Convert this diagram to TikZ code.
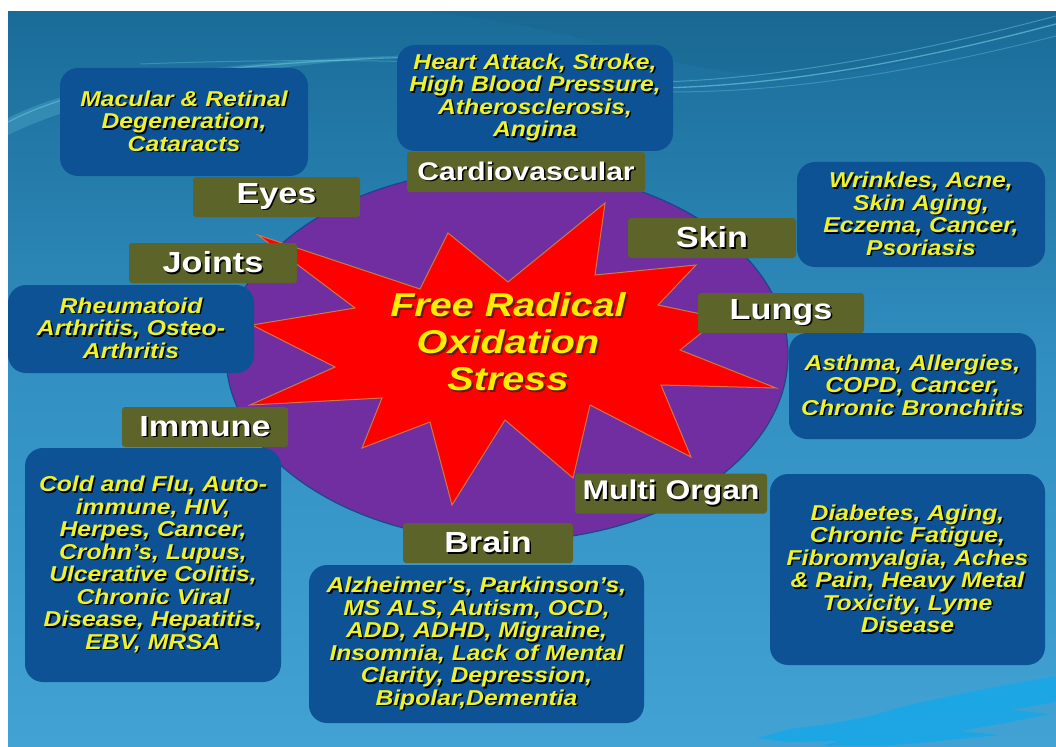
\documentclass[tikz,border=0pt]{standalone}
\usepackage{fontspec}
\setmainfont{Liberation Sans}
\newfontfamily\dfont[FakeStretch=1.15]{Liberation Sans}
\newfontfamily\lfont[FakeStretch=1.18]{Liberation Sans}
\newfontfamily\tfont[FakeStretch=1.2]{Liberation Sans}
\definecolor{olivebox}{RGB}{92,100,42}
\definecolor{disblue}{RGB}{14,82,150}
\definecolor{purp}{RGB}{112,46,160}
\definecolor{ellb}{RGB}{30,70,140}
\definecolor{starb}{RGB}{205,120,70}
\definecolor{starred}{RGB}{255,0,0}
\definecolor{dyellow}{RGB}{238,242,45}
\definecolor{tyellow}{RGB}{255,236,0}
\definecolor{tshadow}{RGB}{110,20,20}
\definecolor{bgtop}{RGB}{26,108,152}
\definecolor{bgmid}{RGB}{50,144,194}
\definecolor{bgbot}{RGB}{66,162,212}
\definecolor{brushc}{RGB}{20,168,232}
\definecolor{wavec}{RGB}{120,215,235}
\newcommand\sh[1]{\leavevmode\rlap{\kern1.6pt\raisebox{-1.6pt}{\textcolor{black}{#1}}}#1}
\newcommand\tsh[1]{\leavevmode\rlap{\kern2pt\raisebox{-2pt}{\textcolor{tshadow}{#1}}}#1}
\tikzset{
  lab/.style={fill=olivebox, rounded corners=3pt, inner sep=0pt, minimum height=40pt,
    text=white, font=\lfont\bfseries\fontsize{29}{30}\selectfont},
  dis/.style={fill=disblue, rounded corners=18pt, inner sep=0pt, align=center,
    text=dyellow, font=\dfont\bfseries\itshape\fontsize{21.5}{22.5}\selectfont},
  ttl/.style={align=center, text=tyellow, inner sep=0pt,
    font=\tfont\bfseries\itshape\fontsize{33}{37}\selectfont},
}
\begin{document}
\begin{tikzpicture}[x=1pt,y=-1pt]
\useasboundingbox (0,0) rectangle (1056,746);
% background
\fill[white] (0,0) rectangle (1056,746);
\shade[top color=bgtop, bottom color=bgbot, middle color=bgmid] (8,12) rectangle (1056,746);
% waves at top
\fill[wavec, opacity=0.22] (8,118) .. controls (60,92) and (160,62) .. (420,55)
   .. controls (200,70) and (80,100) .. (8,135) -- cycle;
\draw[wavec, opacity=0.45, line width=1.2pt] (8,122) .. controls (60,95) and (160,64) .. (420,57);
\draw[wavec, opacity=0.3, line width=1pt] (140,64) .. controls (300,58) and (520,58) .. (640,80);
\fill[bgtop!85!black, opacity=0.2] (420,12) .. controls (560,20) and (660,70) .. (770,76)
   .. controls (880,80) and (980,40) .. (1056,22) -- (1056,12) -- cycle;
\draw[wavec, opacity=0.55, line width=1.3pt] (655,88) .. controls (800,86) and (950,52) .. (1056,24);
\draw[wavec, opacity=0.4, line width=1pt] (660,82) .. controls (800,78) and (950,44) .. (1056,16);
\draw[wavec, opacity=0.3, line width=1pt] (670,92) .. controls (820,92) and (960,60) .. (1056,36);
% brush stroke bottom right
\fill[brushc, opacity=0.8] (757,738) -- (790,729) -- (830,724) -- (870,716) -- (905,706)
  -- (950,696) -- (1000,686) -- (1056,676) -- (1056,702) -- (1010,710) -- (1050,714)
  -- (1000,724) -- (960,731) -- (1000,735) -- (930,742) -- (880,746) -- (820,746) -- (840,741)
  -- (790,742) -- cycle;
% ellipse
\draw[fill=purp, draw=ellb, line width=1.2pt] (507,355) ellipse [x radius=281pt, y radius=186pt];
% starburst
\draw[fill=starred, draw=starb, line width=1pt, line join=miter]
  (258,235) -- (420,289) -- (448,233) -- (508,282) -- (605,203) -- (595,275)
  -- (696,265) -- (658,305) -- (720,318) -- (680,350) -- (776,388) -- (661,385)
  -- (691,457) -- (590,405) -- (573,478) -- (505,420) -- (452,505) -- (430,422)
  -- (362,448) -- (382,398) -- (250,405) -- (335,367) -- (252,325) -- (355,308) -- cycle;
% title
\node[ttl] (title) at (508,343) {\tsh{Free Radical}\\\tsh{Oxidation}\\\tsh{Stress}};
% labels
\node[lab, minimum width=167pt] (eyesL) at (276.5,197) {\sh{Eyes}};
\node[lab, minimum width=238pt, font=\lfont\bfseries\fontsize{25.5}{27}\selectfont] (cardioL) at (526,172) {\sh{Cardiovascular}};
\node[lab, minimum width=168pt] (skinL) at (712,238) {\sh{Skin}};
\node[lab, minimum width=168pt] (jointsL) at (213,263) {\sh{Joints}};
\node[lab, minimum width=166pt] (lungsL) at (781,313) {\sh{Lungs}};
\node[lab, minimum width=166pt] (immuneL) at (205,427) {\sh{Immune}};
\node[lab, minimum width=192pt, font=\lfont\bfseries\fontsize{27}{28}\selectfont] (multiL) at (671,493.5) {\sh{Multi Organ}};
\node[lab, minimum width=170pt] (brainL) at (488,543) {\sh{Brain}};
% disease boxes
\node[dis, minimum width=248pt, minimum height=108pt] (eyesD) at (184,122)
  {\sh{Macular \& Retinal}\\\sh{Degeneration,}\\\sh{Cataracts}};
\node[dis, minimum width=276pt, minimum height=106pt] (cardioD) at (535,98)
  {\sh{Heart Attack, Stroke,}\\\sh{High Blood Pressure,}\\\sh{Atherosclerosis,}\\\sh{Angina}};
\node[dis, minimum width=248pt, minimum height=105pt] (skinD) at (921,214.5)
  {\sh{Wrinkles, Acne,}\\\sh{Skin Aging,}\\\sh{Eczema, Cancer,}\\\sh{Psoriasis}};
\node[dis, minimum width=247pt, minimum height=106pt] (lungsD) at (912.5,386)
  {\sh{Asthma, Allergies,}\\\sh{COPD, Cancer,}\\\sh{Chronic Bronchitis}};
\node[dis, minimum width=246pt, minimum height=88pt] (jointsD) at (131,329)
  {\sh{Rheumatoid}\\\sh{Arthritis, Osteo-}\\\sh{Arthritis}};
\node[dis, minimum width=256pt, minimum height=234pt] (immuneD) at (153,565)
  {\sh{Cold and Flu, Auto-}\\\sh{immune, HIV,}\\\sh{Herpes, Cancer,}\\\sh{Crohn’s, Lupus,}\\\sh{Ulcerative Colitis,}\\\sh{Chronic Viral}\\\sh{Disease, Hepatitis,}\\\sh{EBV, MRSA}};
\node[dis, minimum width=335pt, minimum height=158pt] (brainD) at (476.5,644)
  {\sh{Alzheimer’s, Parkinson’s,}\\\sh{MS ALS, Autism, OCD,}\\\sh{ADD, ADHD, Migraine,}\\\sh{Insomnia, Lack of Mental}\\\sh{Clarity, Depression,}\\\sh{Bipolar,Dementia}};
\node[dis, minimum width=275pt, minimum height=191pt] (multiD) at (907.5,569.5)
  {\sh{Diabetes, Aging,}\\\sh{Chronic Fatigue,}\\\sh{Fibromyalgia, Aches}\\\sh{\& Pain, Heavy Metal}\\\sh{Toxicity, Lyme}\\\sh{Disease}};
\end{tikzpicture}
\end{document}
